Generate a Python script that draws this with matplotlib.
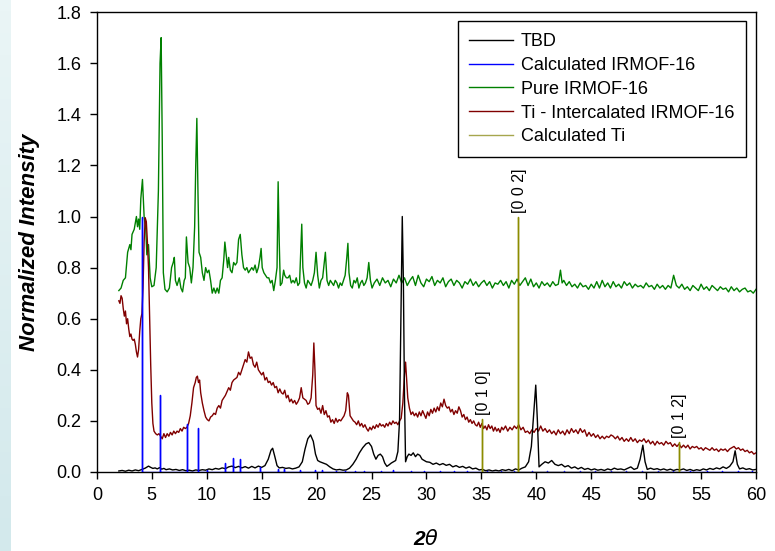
import numpy as np
import matplotlib
matplotlib.use("Agg")
import matplotlib.pyplot as plt

plt.rcParams['font.family'] = ['Liberation Sans', 'DejaVu Sans']

# Pure IRMOF-16 (green)
green_x = [2.0, 2.2, 2.4, 2.6, 2.8, 3.0, 3.1, 3.2, 3.4, 3.6, 3.7, 3.8, 3.9, 4.0, 4.15, 4.3, 4.45, 4.55, 4.7, 4.85,
           5.0, 5.2, 5.4, 5.6, 5.75, 5.85, 5.95, 6.05, 6.2, 6.4, 6.6, 6.8, 6.95, 7.05, 7.15, 7.3, 7.5, 7.65, 7.8, 7.95,
           8.05, 8.15, 8.3, 8.45, 8.6, 8.75, 8.9, 9.0, 9.1, 9.2, 9.3, 9.45, 9.6, 9.75, 9.9, 10.05, 10.2, 10.35, 10.5, 10.65,
           10.8, 10.95, 11.1, 11.25, 11.4, 11.55, 11.65, 11.75, 11.9, 12.0, 12.15, 12.3, 12.45, 12.6, 12.75, 12.9, 13.05, 13.2, 13.35, 13.5,
           13.65, 13.8, 13.95, 14.1, 14.25, 14.4, 14.55, 14.7, 14.85, 14.95, 15.05, 15.2, 15.35, 15.5, 15.65, 15.8, 15.95, 16.1, 16.25, 16.4,
           16.5, 16.6, 16.7, 16.85, 17.0, 17.1, 17.25, 17.4, 17.55, 17.7, 17.85, 18.0, 18.15, 18.3, 18.45, 18.55, 18.65, 18.75, 18.9, 19.05,
           19.2, 19.35, 19.5, 19.65, 19.8, 19.95, 20.1, 20.25, 20.4, 20.55, 20.7, 20.8, 20.95, 21.1, 21.25, 21.4, 21.55, 21.7, 21.85, 22.0,
           22.15, 22.3, 22.45, 22.6, 22.75, 22.85, 22.95, 23.1, 23.25, 23.4, 23.55, 23.7, 23.85, 24.0, 24.15, 24.3, 24.45, 24.6, 24.75, 24.9,
           25.05, 25.25, 25.5, 25.75, 26.0, 26.25, 26.5, 26.75, 27.0, 27.25, 27.5, 27.75, 28.0, 28.25, 28.5, 28.75, 29.0, 29.25, 29.5, 29.75,
           30.0, 30.25, 30.5, 30.75, 31.0, 31.25, 31.5, 31.75, 32.0, 32.25, 32.5, 32.75, 33.0, 33.25, 33.5, 33.75, 34.0, 34.25, 34.5, 34.75,
           35.0, 35.25, 35.5, 35.75, 36.0, 36.25, 36.5, 36.75, 37.0, 37.25, 37.5, 37.75, 38.0, 38.25, 38.5, 38.75, 39.0, 39.25, 39.5, 39.75,
           40.0, 40.25, 40.5, 40.75, 41.0, 41.25, 41.5, 41.75, 42.0, 42.2, 42.35, 42.5, 42.75, 43.0, 43.25, 43.5, 43.75, 44.0, 44.25, 44.5,
           44.75, 45.0, 45.25, 45.5, 45.75, 46.0, 46.25, 46.5, 46.75, 47.0, 47.25, 47.5, 47.75, 48.0, 48.25, 48.5, 48.75, 49.0, 49.25, 49.5,
           49.75, 50.0, 50.25, 50.5, 50.75, 51.0, 51.25, 51.5, 51.75, 52.0, 52.25, 52.5, 52.75, 53.0, 53.25, 53.5, 53.75, 54.0, 54.25, 54.5,
           54.75, 55.0, 55.25, 55.5, 55.75, 56.0, 56.25, 56.5, 56.75, 57.0, 57.25, 57.5, 57.75, 58.0, 58.25, 58.5, 58.75, 59.0, 59.25, 59.5,
           59.75, 60.0]
green_y = [0.71, 0.72, 0.75, 0.76, 0.86, 0.89, 0.87, 0.93, 0.95, 1.00, 0.96, 0.99, 0.95, 1.07, 1.145, 1.00, 0.95, 0.85, 0.89, 0.76,
           0.725, 0.73, 0.80, 1.10, 1.60, 1.70, 1.30, 0.78, 0.715, 0.705, 0.72, 0.80, 0.82, 0.84, 0.75, 0.73, 0.76, 0.72, 0.705, 0.75,
           0.76, 0.92, 0.82, 0.80, 0.74, 0.80, 0.96, 1.20, 1.384, 1.10, 0.86, 0.84, 0.78, 0.75, 0.80, 0.78, 0.79, 0.75, 0.70, 0.72,
           0.70, 0.72, 0.70, 0.75, 0.76, 0.83, 0.90, 0.86, 0.80, 0.84, 0.79, 0.78, 0.82, 0.81, 0.82, 0.91, 0.93, 0.85, 0.80, 0.79,
           0.80, 0.78, 0.79, 0.80, 0.79, 0.81, 0.78, 0.80, 0.84, 0.875, 0.80, 0.78, 0.77, 0.76, 0.76, 0.74, 0.75, 0.71, 0.75, 0.80,
           1.136, 0.90, 0.73, 0.74, 0.79, 0.77, 0.76, 0.76, 0.77, 0.74, 0.75, 0.74, 0.76, 0.73, 0.74, 0.85, 0.97, 0.80, 0.74, 0.72,
           0.75, 0.74, 0.73, 0.75, 0.78, 0.86, 0.77, 0.72, 0.75, 0.76, 0.82, 0.86, 0.75, 0.73, 0.75, 0.74, 0.73, 0.75, 0.74, 0.72,
           0.74, 0.73, 0.75, 0.77, 0.84, 0.895, 0.78, 0.73, 0.72, 0.75, 0.74, 0.76, 0.72, 0.74, 0.75, 0.73, 0.74, 0.76, 0.82, 0.75,
           0.72, 0.74, 0.755, 0.73, 0.76, 0.74, 0.75, 0.725, 0.755, 0.74, 0.77, 0.74, 0.76, 0.73, 0.75, 0.765, 0.73, 0.77, 0.74, 0.725,
           0.755, 0.745, 0.765, 0.73, 0.75, 0.74, 0.76, 0.725, 0.745, 0.755, 0.73, 0.75, 0.74, 0.72, 0.745, 0.735, 0.755, 0.73, 0.745, 0.725,
           0.74, 0.75, 0.73, 0.745, 0.72, 0.74, 0.735, 0.75, 0.73, 0.745, 0.72, 0.75, 0.735, 0.755, 0.73, 0.745, 0.76, 0.73, 0.755, 0.725,
           0.74, 0.72, 0.745, 0.73, 0.74, 0.725, 0.745, 0.73, 0.735, 0.79, 0.74, 0.75, 0.73, 0.745, 0.725, 0.735, 0.72, 0.74, 0.725, 0.73,
           0.715, 0.735, 0.72, 0.745, 0.72, 0.75, 0.725, 0.74, 0.72, 0.745, 0.725, 0.735, 0.72, 0.745, 0.73, 0.74, 0.72, 0.735, 0.725, 0.73,
           0.72, 0.74, 0.725, 0.73, 0.715, 0.735, 0.72, 0.73, 0.715, 0.73, 0.72, 0.77, 0.73, 0.72, 0.735, 0.715, 0.725, 0.71, 0.73, 0.72,
           0.71, 0.735, 0.715, 0.725, 0.71, 0.73, 0.72, 0.71, 0.725, 0.715, 0.72, 0.705, 0.725, 0.71, 0.72, 0.705, 0.715, 0.72, 0.705, 0.71,
           0.70, 0.715]

# Ti - Intercalated IRMOF-16 (dark red)
red_x = [2.0, 2.1, 2.2, 2.3, 2.4, 2.5, 2.6, 2.7, 2.8, 2.9, 3.0, 3.1, 3.2, 3.3, 3.4, 3.5, 3.6, 3.7, 3.8, 3.9,
         4.0, 4.1, 4.2, 4.3, 4.4, 4.5, 4.6, 4.7, 4.8, 4.9, 5.0, 5.1, 5.2, 5.35, 5.5, 5.65, 5.8, 5.95, 6.1, 6.25,
         6.4, 6.55, 6.7, 6.85, 7.0, 7.15, 7.3, 7.45, 7.6, 7.75, 7.9, 8.05, 8.2, 8.35, 8.5, 8.65, 8.8, 8.95, 9.05, 9.15,
         9.25, 9.35, 9.45, 9.6, 9.75, 9.9, 10.05, 10.2, 10.35, 10.5, 10.65, 10.8, 10.95, 11.1, 11.25, 11.4, 11.55, 11.7, 11.85, 12.0,
         12.15, 12.3, 12.45, 12.6, 12.75, 12.9, 13.05, 13.2, 13.35, 13.5, 13.65, 13.8, 13.95, 14.1, 14.25, 14.4, 14.55, 14.7, 14.85, 15.0,
         15.15, 15.3, 15.45, 15.6, 15.75, 15.9, 16.05, 16.2, 16.35, 16.5, 16.65, 16.8, 16.95, 17.1, 17.25, 17.4, 17.55, 17.7, 17.85, 18.0,
         18.15, 18.3, 18.45, 18.6, 18.75, 18.9, 19.05, 19.2, 19.35, 19.5, 19.65, 19.75, 19.85, 19.95, 20.1, 20.25, 20.4, 20.55, 20.7, 20.85,
         21.0, 21.15, 21.3, 21.45, 21.6, 21.75, 21.9, 22.05, 22.2, 22.35, 22.5, 22.65, 22.8, 22.9, 23.05, 23.2, 23.35, 23.5, 23.65, 23.8,
         23.95, 24.1, 24.25, 24.4, 24.55, 24.7, 24.85, 25.0, 25.15, 25.3, 25.45, 25.6, 25.75, 25.9, 26.05, 26.2, 26.35, 26.5, 26.65, 26.8,
         26.95, 27.1, 27.25, 27.4, 27.55, 27.7, 27.85, 28.0, 28.1, 28.2, 28.3, 28.45, 28.6, 28.75, 28.9, 29.05, 29.2, 29.35, 29.5, 29.65,
         29.8, 29.95, 30.1, 30.25, 30.4, 30.55, 30.7, 30.85, 31.0, 31.15, 31.3, 31.45, 31.6, 31.75, 31.9, 32.05, 32.2, 32.35, 32.5, 32.65,
         32.8, 32.95, 33.1, 33.25, 33.4, 33.55, 33.7, 33.85, 34.0, 34.15, 34.3, 34.45, 34.6, 34.75, 34.9, 35.05, 35.2, 35.35, 35.5, 35.65,
         35.8, 35.95, 36.1, 36.25, 36.4, 36.55, 36.7, 36.85, 37.0, 37.2, 37.4, 37.6, 37.8, 38.0, 38.2, 38.4, 38.6, 38.8, 39.0, 39.2,
         39.4, 39.6, 39.8, 40.0, 40.2, 40.4, 40.6, 40.8, 41.0, 41.2, 41.4, 41.6, 41.8, 42.0, 42.2, 42.4, 42.6, 42.8, 43.0, 43.2,
         43.4, 43.6, 43.8, 44.0, 44.2, 44.4, 44.6, 44.8, 45.0, 45.2, 45.4, 45.6, 45.8, 46.0, 46.2, 46.4, 46.6, 46.8, 47.0, 47.2,
         47.4, 47.6, 47.8, 48.0, 48.2, 48.4, 48.6, 48.8, 49.0, 49.2, 49.4, 49.6, 49.8, 50.0, 50.2, 50.4, 50.6, 50.8, 51.0, 51.2,
         51.4, 51.6, 51.8, 52.0, 52.2, 52.4, 52.6, 52.8, 53.0, 53.2, 53.4, 53.6, 53.8, 54.0, 54.2, 54.4, 54.6, 54.8, 55.0, 55.2,
         55.4, 55.6, 55.8, 56.0, 56.2, 56.4, 56.6, 56.8, 57.0, 57.2, 57.4, 57.6, 57.8, 58.0, 58.2, 58.4, 58.6, 58.8, 59.0, 59.2,
         59.4, 59.6, 59.8, 60.0]
red_y = [0.67, 0.66, 0.69, 0.68, 0.64, 0.61, 0.63, 0.58, 0.60, 0.56, 0.53, 0.54, 0.52, 0.515, 0.52, 0.50, 0.47, 0.45, 0.48, 0.55,
         0.60, 0.62, 0.72, 0.90, 0.995, 0.98, 0.90, 0.80, 0.60, 0.42, 0.27, 0.19, 0.16, 0.15, 0.145, 0.15, 0.14, 0.13, 0.15, 0.135,
         0.15, 0.14, 0.155, 0.145, 0.16, 0.15, 0.16, 0.155, 0.17, 0.16, 0.175, 0.17, 0.175, 0.19, 0.22, 0.27, 0.33, 0.35, 0.37, 0.375,
         0.35, 0.36, 0.31, 0.27, 0.24, 0.215, 0.205, 0.20, 0.215, 0.22, 0.23, 0.225, 0.25, 0.26, 0.25, 0.28, 0.29, 0.30, 0.315, 0.33,
         0.32, 0.35, 0.36, 0.365, 0.37, 0.39, 0.38, 0.40, 0.42, 0.44, 0.43, 0.47, 0.445, 0.45, 0.42, 0.41, 0.43, 0.40, 0.39, 0.38,
         0.39, 0.36, 0.37, 0.35, 0.355, 0.34, 0.35, 0.33, 0.335, 0.31, 0.325, 0.31, 0.305, 0.32, 0.29, 0.30, 0.275, 0.285, 0.27, 0.28,
         0.265, 0.275, 0.29, 0.33, 0.29, 0.285, 0.28, 0.265, 0.27, 0.29, 0.38, 0.505, 0.40, 0.26, 0.245, 0.25, 0.23, 0.26, 0.225, 0.24,
         0.215, 0.22, 0.195, 0.205, 0.19, 0.21, 0.195, 0.205, 0.20, 0.21, 0.22, 0.24, 0.31, 0.30, 0.22, 0.21, 0.20, 0.195, 0.185, 0.20,
         0.18, 0.19, 0.175, 0.185, 0.17, 0.16, 0.175, 0.165, 0.18, 0.17, 0.185, 0.175, 0.19, 0.18, 0.185, 0.175, 0.19, 0.18, 0.195, 0.185,
         0.20, 0.19, 0.195, 0.185, 0.20, 0.21, 0.27, 0.38, 0.43, 0.36, 0.29, 0.25, 0.225, 0.235, 0.22, 0.23, 0.215, 0.235, 0.22, 0.24,
         0.225, 0.21, 0.235, 0.22, 0.245, 0.23, 0.25, 0.235, 0.255, 0.24, 0.27, 0.255, 0.285, 0.26, 0.25, 0.255, 0.235, 0.245, 0.225, 0.24,
         0.23, 0.255, 0.24, 0.215, 0.225, 0.205, 0.215, 0.195, 0.205, 0.19, 0.20, 0.185, 0.18, 0.195, 0.175, 0.19, 0.17, 0.18, 0.165, 0.185,
         0.17, 0.18, 0.16, 0.175, 0.16, 0.17, 0.155, 0.175, 0.165, 0.18, 0.16, 0.175, 0.165, 0.18, 0.17, 0.185, 0.165, 0.175, 0.155, 0.16,
         0.15, 0.165, 0.155, 0.17, 0.16, 0.18, 0.16, 0.17, 0.155, 0.165, 0.15, 0.16, 0.145, 0.165, 0.15, 0.16, 0.145, 0.165, 0.15, 0.17,
         0.155, 0.165, 0.15, 0.17, 0.155, 0.165, 0.14, 0.155, 0.14, 0.15, 0.135, 0.145, 0.13, 0.14, 0.13, 0.14, 0.135, 0.145, 0.14, 0.13,
         0.14, 0.125, 0.135, 0.12, 0.13, 0.12, 0.135, 0.12, 0.13, 0.115, 0.125, 0.12, 0.13, 0.115, 0.125, 0.11, 0.12, 0.105, 0.12, 0.11,
         0.115, 0.105, 0.12, 0.11, 0.115, 0.10, 0.11, 0.10, 0.11, 0.095, 0.105, 0.095, 0.105, 0.09, 0.10, 0.095, 0.10, 0.09, 0.095, 0.085,
         0.095, 0.09, 0.085, 0.095, 0.085, 0.09, 0.08, 0.09, 0.085, 0.09, 0.08, 0.09, 0.095, 0.10, 0.09, 0.095, 0.085, 0.09, 0.08, 0.085,
         0.075, 0.08, 0.07, 0.075]

# TBD (black)
tbd_x = [2.0, 2.3, 2.6, 2.9, 3.2, 3.5, 3.8, 4.1, 4.4, 4.7, 4.9, 5.1, 5.3, 5.5, 5.7, 5.9, 6.1, 6.3, 6.6, 6.9,
         7.2, 7.5, 7.8, 8.1, 8.4, 8.7, 9.0, 9.3, 9.6, 9.9, 10.2, 10.5, 10.8, 11.1, 11.4, 11.7, 12.0, 12.3, 12.6, 12.9,
         13.2, 13.5, 13.8, 14.1, 14.4, 14.7, 15.0, 15.3, 15.6, 15.85, 16.0, 16.2, 16.4, 16.6, 16.9, 17.2, 17.5, 17.8, 18.1, 18.4,
         18.7, 18.95, 19.2, 19.45, 19.7, 19.9, 20.1, 20.3, 20.6, 20.9, 21.2, 21.5, 21.8, 22.1, 22.4, 22.7, 23.0, 23.3, 23.6, 23.9,
         24.2, 24.5, 24.75, 25.0, 25.2, 25.4, 25.6, 25.8, 26.0, 26.2, 26.4, 26.6, 26.8, 27.0, 27.2, 27.4, 27.55, 27.7, 27.8, 27.9,
         28.0, 28.1, 28.25, 28.4, 28.6, 28.8, 29.0, 29.2, 29.4, 29.6, 29.8, 30.0, 30.3, 30.6, 30.9, 31.2, 31.5, 31.8, 32.1, 32.4,
         32.7, 33.0, 33.3, 33.6, 33.9, 34.2, 34.5, 34.8, 35.1, 35.4, 35.7, 36.0, 36.3, 36.6, 36.9, 37.2, 37.5, 37.8, 38.1, 38.4,
         38.7, 39.0, 39.3, 39.55, 39.75, 39.95, 40.1, 40.25, 40.5, 40.8, 41.1, 41.4, 41.7, 42.0, 42.3, 42.6, 42.9, 43.2, 43.5, 43.8,
         44.1, 44.4, 44.7, 45.0, 45.3, 45.6, 45.9, 46.2, 46.5, 46.8, 47.1, 47.4, 47.7, 48.0, 48.3, 48.6, 48.9, 49.2, 49.45, 49.7,
         49.9, 50.1, 50.4, 50.7, 51.0, 51.3, 51.6, 51.9, 52.2, 52.5, 52.8, 53.1, 53.4, 53.7, 54.0, 54.3, 54.6, 54.9, 55.2, 55.5,
         55.8, 56.1, 56.4, 56.7, 57.0, 57.3, 57.6, 57.9, 58.1, 58.3, 58.5, 58.8, 59.1, 59.4, 59.7, 60.0]
tbd_y = [0.004, 0.006, 0.003, 0.007, 0.004, 0.008, 0.005, 0.01, 0.015, 0.023, 0.018, 0.014, 0.016, 0.012, 0.017, 0.011, 0.014, 0.009, 0.012, 0.008,
         0.01, 0.006, 0.009, 0.005, 0.007, 0.004, 0.008, 0.006, 0.009, 0.007, 0.012, 0.009, 0.014, 0.011, 0.016, 0.013, 0.02, 0.023, 0.017, 0.022,
         0.016, 0.021, 0.015, 0.022, 0.016, 0.023, 0.018, 0.025, 0.05, 0.085, 0.093, 0.06, 0.025, 0.016, 0.018, 0.014, 0.016, 0.012, 0.015, 0.02,
         0.04, 0.09, 0.13, 0.145, 0.12, 0.07, 0.045, 0.04, 0.035, 0.03, 0.02, 0.012, 0.008, 0.01, 0.007, 0.008, 0.015, 0.03, 0.05, 0.075,
         0.095, 0.11, 0.115, 0.10, 0.07, 0.05, 0.065, 0.07, 0.06, 0.035, 0.022, 0.028, 0.035, 0.04, 0.045, 0.08, 0.20, 0.70, 1.00, 0.75,
         0.30, 0.04, 0.06, 0.07, 0.065, 0.075, 0.06, 0.07, 0.065, 0.05, 0.045, 0.04, 0.038, 0.03, 0.035, 0.028, 0.033, 0.026, 0.03, 0.02,
         0.025, 0.018, 0.022, 0.015, 0.02, 0.012, 0.015, 0.008, 0.01, 0.005, 0.008, 0.004, 0.007, 0.004, 0.009, 0.006, 0.01, 0.005, 0.012, 0.008,
         0.015, 0.02, 0.04, 0.10, 0.22, 0.34, 0.20, 0.02, 0.03, 0.04, 0.035, 0.045, 0.03, 0.025, 0.03, 0.02, 0.025, 0.015, 0.02, 0.012,
         0.018, 0.01, 0.014, 0.008, 0.012, 0.007, 0.01, 0.006, 0.012, 0.008, 0.015, 0.01, 0.012, 0.008, 0.014, 0.02, 0.01, 0.015, 0.05, 0.105,
         0.04, 0.01, 0.015, 0.01, 0.013, 0.008, 0.012, 0.007, 0.011, 0.006, 0.01, 0.008, 0.012, 0.006, 0.01, 0.005, 0.009, 0.006, 0.012, 0.008,
         0.014, 0.01, 0.016, 0.012, 0.02, 0.014, 0.022, 0.04, 0.083, 0.03, 0.012, 0.016, 0.01, 0.013, 0.008, 0.01]

# Calculated IRMOF-16 stick pattern (blue)
irmof_pos = [4.12, 5.79, 8.23, 9.2, 10.0, 11.65, 12.35, 13.0, 14.85, 16.5, 17.0, 18.5, 19.9, 20.5, 21.8, 22.6, 23.5, 24.3,
             25.9, 27.0, 28.6, 29.8, 31.2, 32.5, 33.7, 35.5, 36.8, 38.0, 39.6, 41.0, 42.5, 44.0, 45.3, 46.8, 48.2, 49.6,
             51.1, 52.4, 54.0, 55.5, 56.9, 58.4, 59.6]
irmof_int = [1.0, 0.30, 0.188, 0.171, 0.008, 0.037, 0.054, 0.051, 0.02, 0.01, 0.012, 0.008, 0.006, 0.006, 0.004, 0.005, 0.004, 0.005,
             0.004, 0.006, 0.005, 0.004, 0.005, 0.004, 0.005, 0.004, 0.005, 0.004, 0.005, 0.004, 0.005, 0.004, 0.005, 0.004, 0.005, 0.004,
             0.005, 0.004, 0.005, 0.004, 0.005, 0.004, 0.005]

# Calculated Ti stick pattern (olive)
ti_pos = [35.07, 38.36, 52.95]
ti_int = [0.209, 1.0, 0.118]
ti_hkl = ['[0 1 0]', '[0 0 2]', '[0 1 2]']


def sticks(pos, inten):
    xs, ys = [], []
    for p, h in zip(pos, inten):
        xs += [p, p, p]
        ys += [0, h, 0]
    return xs, ys


fig = plt.figure(figsize=(7.75, 5.51), dpi=100)

# light blue strip at the left edge
strip = fig.add_axes([0, 0, 0.013, 1])
strip.imshow(np.linspace(0, 1, 50).reshape(-1, 1), aspect='auto', cmap=matplotlib.colors.LinearSegmentedColormap.from_list(
    's', ['#eaf5f6', '#d3e9ec']))
strip.axis('off')

ax = fig.add_axes([0.125, 0.1434, 0.8505, 0.8346])

ax.plot(green_x, green_y, color='#008000', lw=1.0, zorder=2)
ax.plot(red_x, red_y, color='#800000', lw=1.0, zorder=3)
ax.plot(tbd_x, tbd_y, color='black', lw=1.0, zorder=4)
bx, by = sticks(irmof_pos, irmof_int)
ax.plot(bx, by, color='#0000ff', lw=1.0, zorder=5)
tx, ty = sticks(ti_pos, ti_int)
ax.plot(tx, ty, color='#8c8c00', lw=1.0, zorder=5)

for p, h, lab in zip(ti_pos, ti_int, ti_hkl):
    ax.text(p + 0.1, h + 0.015, lab, rotation=90, ha='center', va='bottom', fontsize=11.5)

# legend
handles = [
    plt.Line2D([], [], color='black', lw=1.0),
    plt.Line2D([], [], color='#0000ff', lw=1.0),
    plt.Line2D([], [], color='#008000', lw=1.0),
    plt.Line2D([], [], color='#800000', lw=1.0),
    plt.Line2D([], [], color='#a6a64d', lw=1.0),
]
labels = ['TBD', 'Calculated IRMOF-16', 'Pure IRMOF-16', 'Ti - Intercalated IRMOF-16', 'Calculated Ti']
leg = ax.legend(handles, labels, loc='upper right', bbox_to_anchor=(0.985, 0.980), borderaxespad=0, fontsize=13,
                frameon=True, fancybox=False, edgecolor='black', framealpha=1,
                handlelength=2.4, handletextpad=0.45, labelspacing=0.38, borderpad=0.65)
leg.get_frame().set_linewidth(1.0)

ax.set_xlim(0, 60)
ax.set_ylim(0, 1.8)
ax.set_xticks(np.arange(0, 61, 5))
ax.set_yticks(np.arange(0, 1.81, 0.2))
ax.set_yticklabels(['%.1f' % v for v in np.arange(0, 1.81, 0.2)])
ax.tick_params(direction='out', length=5, width=1, labelsize=13, pad=6)
for s in ax.spines.values():
    s.set_linewidth(1.0)

ax.set_ylabel('Normalized Intensity', fontsize=16, fontweight='bold', fontstyle='italic', labelpad=12)
ax.set_xlabel(r'2$\theta$', fontsize=15, fontweight='bold', fontstyle='italic', labelpad=18)

fig.savefig('out.png', dpi=100)
